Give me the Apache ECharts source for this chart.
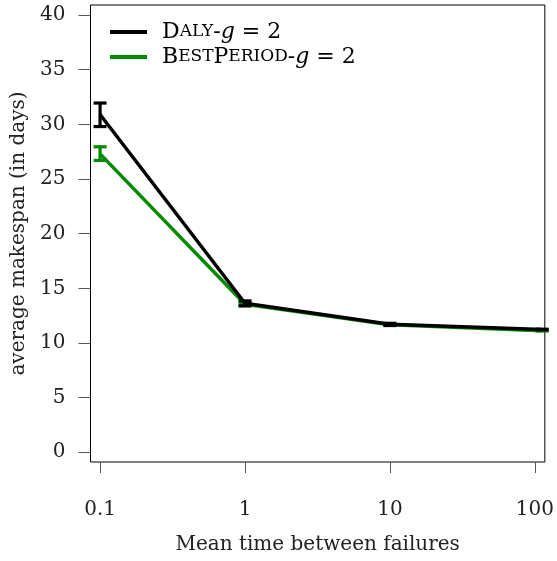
<!DOCTYPE html>
<html><head><meta charset="utf-8">
<script src="https://cdn.jsdelivr.net/npm/echarts@6/dist/echarts.min.js"></script>
<style>html,body{margin:0;padding:0;background:#fff}#c{width:557px;height:561px}</style>
</head><body><div id="c"></div>
<script>
var mtbf = [0.1, 1, 10, 112];
var xTickValues = [0.1, 1, 10, 100];
var yTickValues = [0, 5, 10, 15, 20, 25, 30, 35, 40];
var dalyMean = [30.9, 13.63, 11.71, 11.23];
var dalyLow = [29.8, 13.4, 11.6, 11.2];
var dalyHigh = [31.95, 13.85, 11.8, 11.26];
var bestMean = [27.3, 13.55, 11.66, 11.12];
var bestLow = [26.7, 13.4, 11.6, 11.1];
var bestHigh = [27.95, 13.7, 11.72, 11.15];
var seriesNames = ['Daly-g = 2', 'BestPeriod-g = 2'];
var colors = ['#000000', '#008b00'];

var FONT = 'DejaVu Serif';
var FS = 20;
var lg = function (v) { return Math.log10(v); };

function pts(means) { return mtbf.map(function (x, i) { return [lg(x), means[i]]; }); }
function bars(lo, hi) { return mtbf.map(function (x, i) { return [lg(x), lo[i], hi[i]]; }); }

function errRender(color) {
  return function (params, api) {
    var x = api.value(0);
    var p1 = api.coord([x, api.value(1)]);
    var p2 = api.coord([x, api.value(2)]);
    var w = 6.5;
    var st = { stroke: color, lineWidth: 3.2 };
    return { type: 'group', children: [
      { type: 'line', shape: { x1: p1[0], y1: p1[1], x2: p2[0], y2: p2[1] }, style: st },
      { type: 'line', shape: { x1: p1[0] - w, y1: p1[1], x2: p1[0] + w, y2: p1[1] }, style: st },
      { type: 'line', shape: { x1: p2[0] - w, y1: p2[1], x2: p2[0] + w, y2: p2[1] }, style: st }
    ]};
  };
}

var chart = echarts.init(document.getElementById('c'), null, { renderer: 'canvas' });
var lblFmt = function (name) {
  if (name === seriesNames[0]) return '{c|D}{s|ALY}{n|-}{i|g}{n| = 2}';
  return '{c|B}{s|EST}{c|P}{s|ERIOD}{n|-}{i|g}{n| = 2}';
};
chart.setOption({
  animation: false,
  grid: { left: 90.5, right: 9.5, top: 5, bottom: 99, show: true, borderColor: '#000', borderWidth: 1, backgroundColor: 'transparent' },
  legend: {
    data: seriesNames.map(function (n, i) { return { name: n, icon: 'rect', itemStyle: { color: colors[i] } }; }),
    orient: 'vertical', left: 110, top: 21, padding: 0, itemWidth: 37, itemHeight: 4, itemGap: 3,
    formatter: lblFmt,
    textStyle: {
      padding: [0, 0, 0, 10],
      rich: {
        c: { fontFamily: FONT, fontSize: 22, color: '#000', lineHeight: 24 },
        s: { fontFamily: FONT, fontSize: 17, color: '#000', lineHeight: 24 },
        n: { fontFamily: FONT, fontSize: 22, color: '#000', lineHeight: 24 },
        i: { fontFamily: FONT, fontSize: 22, fontStyle: 'italic', color: '#000', lineHeight: 24 }
      }
    }
  },
  xAxis: {
    type: 'value', min: -1.066, max: 2.0685,
    name: 'Mean time between failures', nameLocation: 'middle', nameGap: 73,
    nameTextStyle: { fontFamily: FONT, fontSize: FS, color: '#222' },
    axisLine: { show: false, onZero: false },
    splitLine: { show: false },
    axisTick: { show: true, length: 11, customValues: xTickValues.map(lg), lineStyle: { color: '#555', width: 1 } },
    axisLabel: { customValues: xTickValues.map(lg), margin: 38, fontFamily: FONT, fontSize: FS, color: '#222',
      formatter: function (v) { var r = Math.round(Math.pow(10, v) * 1000) / 1000; return String(r); } }
  },
  yAxis: {
    type: 'value', min: -0.89, max: 40.92,
    name: 'average makespan (in days)', nameLocation: 'middle', nameGap: 62,
    nameTextStyle: { fontFamily: FONT, fontSize: FS, color: '#222' },
    axisLine: { show: false, onZero: false },
    splitLine: { show: false },
    axisTick: { show: true, length: 12, customValues: yTickValues, lineStyle: { color: '#555', width: 1 } },
    axisLabel: { customValues: yTickValues, margin: 25, fontFamily: FONT, fontSize: FS, color: '#222' }
  },
  series: [
    { name: seriesNames[1], type: 'line', data: pts(bestMean), showSymbol: false, symbol: 'none', lineStyle: { color: colors[1], width: 3.5 }, itemStyle: { color: colors[1] }, z: 2 },
    { name: seriesNames[1] + ' err', type: 'custom', data: bars(bestLow, bestHigh), renderItem: errRender(colors[1]), encode: { x: 0, y: [1, 2] }, z: 3 },
    { name: seriesNames[0], type: 'line', data: pts(dalyMean), showSymbol: false, symbol: 'none', lineStyle: { color: colors[0], width: 3.5 }, itemStyle: { color: colors[0] }, z: 4 },
    { name: seriesNames[0] + ' err', type: 'custom', data: bars(dalyLow, dalyHigh), renderItem: errRender(colors[0]), encode: { x: 0, y: [1, 2] }, z: 5 }
  ]
});
</script></body></html>
